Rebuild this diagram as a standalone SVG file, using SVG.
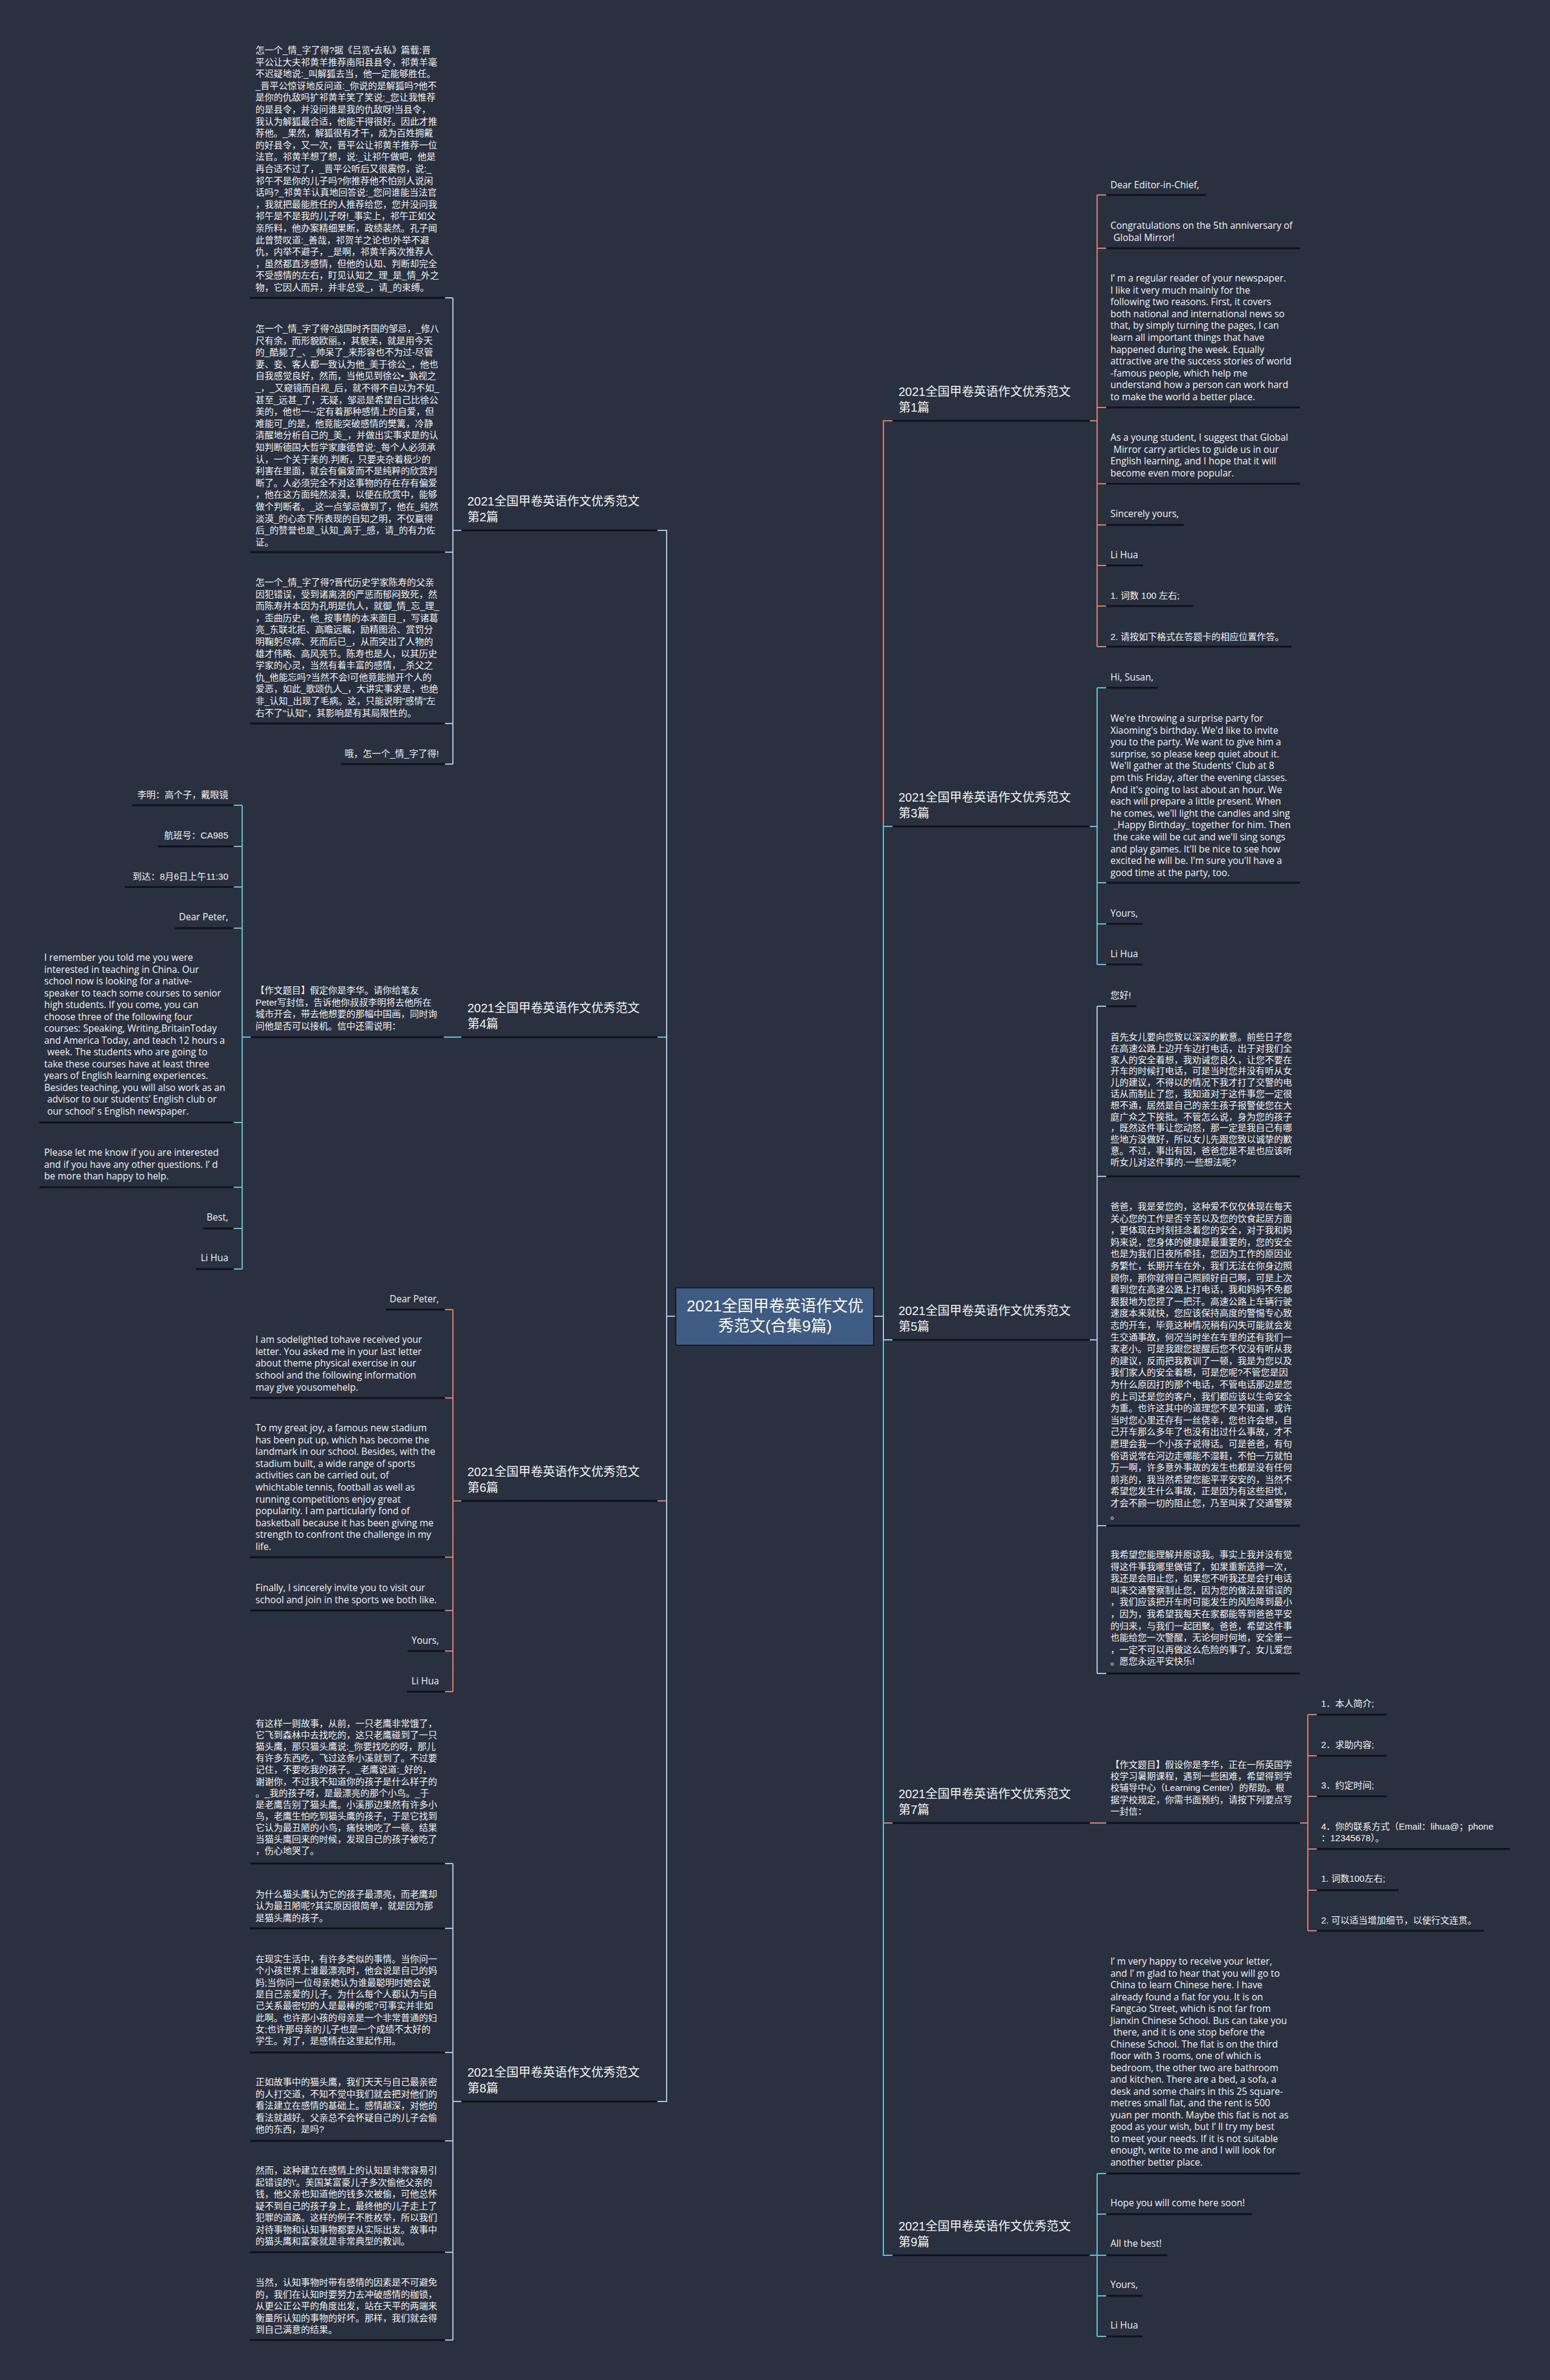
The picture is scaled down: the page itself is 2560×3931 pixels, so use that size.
<svg xmlns="http://www.w3.org/2000/svg" width="2560" height="3931" viewBox="0 0 2560 3931">
<style>
.t{font-family:"Liberation Sans","Noto Sans CJK SC",sans-serif;font-size:15px;fill:#f4f4f4}
.en{font-family:"Open Sans","Liberation Sans",sans-serif;font-size:15.5px}
.e{text-anchor:end}
.b{font-family:"Liberation Sans","Noto Sans CJK SC",sans-serif;font-size:20px;fill:#f4f4f4}
.c{font-family:"Liberation Sans","Noto Sans CJK SC",sans-serif;font-size:26px;fill:#ffffff;text-anchor:middle}
.ul{stroke:#0e1117;stroke-width:3;fill:none}
.S{stroke:#e07f6b;stroke-width:2;fill:none}
.C{stroke:#62c3d8;stroke-width:2;fill:none}
.B{stroke:#a8c6e2;stroke-width:2;fill:none}
</style>
<rect x="0" y="0" width="2560" height="3931" fill="#293140"/>

<g id="connectors">
<path class="S" d="M1443,2174H1459V695H1474"/>
<path class="S" d="M1443,2174H1459V3011H1474"/>
<path class="S" d="M1116,2174H1101V2479H1086"/>
<path class="C" d="M1443,2174H1459V1365H1474"/>
<path class="C" d="M1443,2174H1459V3725H1474"/>
<path class="C" d="M1116,2174H1101V1713H1086"/>
<path class="B" d="M1443,2174H1459V2213H1474"/>
<path class="B" d="M1116,2174H1101V876H1086"/>
<path class="B" d="M1116,2174H1101V3471H1086"/>
<path class="B" d="M762,876H748M748,492V1262M748,492H735M748,912H735M748,1195H735M748,1262H735"/>
<path class="C" d="M762,1713H733"/>
<path class="C" d="M414,1713H400M400,1330V2096M400,1330H386M400,1398H386M400,1465H386M400,1533H386M400,1854H386M400,1961H386M400,2029H386M400,2096H386"/>
<path class="S" d="M762,2479H748M748,2163V2794M748,2163H735M748,2309H735M748,2572H735M748,2660H735M748,2727H735M748,2794H735"/>
<path class="B" d="M762,3471H748M748,3078V3865M748,3078H735M748,3185H735M748,3390H735M748,3536H735M748,3720H735M748,3865H735"/>
<path class="S" d="M1800,695H1812M1812,322V1068M1812,322H1827M1812,410H1827M1812,673H1827M1812,799H1827M1812,867H1827M1812,934H1827M1812,1001H1827M1812,1068H1827"/>
<path class="C" d="M1800,1365H1812M1812,1136V1593M1812,1136H1827M1812,1458H1827M1812,1526H1827M1812,1593H1827"/>
<path class="B" d="M1800,2213H1812M1812,1662V2764M1812,1662H1827M1812,1943H1827M1812,2520H1827M1812,2764H1827"/>
<path class="S" d="M1800,3011H1827"/>
<path class="S" d="M2147,3011H2160M2160,2832V3189M2160,2832H2175M2160,2900H2175M2160,2967H2175M2160,3054H2175M2160,3122H2175M2160,3189H2175"/>
<path class="C" d="M1800,3725H1812M1812,3590V3859M1812,3590H1827M1812,3657H1827M1812,3725H1827M1812,3792H1827M1812,3859H1827"/>
</g>

<g id="root">
<rect x="1116" y="2127" width="327" height="95" fill="#3d5b83" stroke="#161a22" stroke-width="2"/>
<text class="c" x="1280" y="2166">2021全国甲卷英语作文优</text>
<text class="c" x="1280" y="2199">秀范文(合集9篇)</text>
</g>

<g id="b2">
<line class="ul" x1="762" y1="876" x2="1086" y2="876"/>
<text class="b" x="772" y="835">2021全国甲卷英语作文优秀范文</text>
<text class="b" x="772" y="861">第2篇</text>
</g>
<g id="b2n1">
<line class="ul" x1="413" y1="492" x2="735" y2="492"/>
<text class="t" x="422" y="88"><tspan x="422">怎一个_情_字了得?据《吕览•去私》篇载:晋</tspan><tspan x="422" dy="19.6">平公让大夫祁黄羊推荐南阳县县令，祁黄羊毫</tspan><tspan x="422" dy="19.6">不迟疑地说:_叫解狐去当，他一定能够胜任。</tspan><tspan x="422" dy="19.6">_晋平公惊讶地反问道:_你说的是解狐吗?他不</tspan><tspan x="422" dy="19.6">是你的仇敌吗扩祁黄羊笑了笑说:_您让我惟荐</tspan><tspan x="422" dy="19.6">的是县令，并没问谁是我的仇敌呀!当县令，</tspan><tspan x="422" dy="19.6">我认为解狐最合适，他能干得很好。因此才推</tspan><tspan x="422" dy="19.6">荐他。_果然，解狐很有才干，成为百姓拥戴</tspan><tspan x="422" dy="19.6">的好县令，又一次，晋平公让祁黄羊推荐一位</tspan><tspan x="422" dy="19.6">法官。祁黄羊想了想，说:_让祁午做吧，他是</tspan><tspan x="422" dy="19.6">再合适不过了，_晋平公听后又很震惊，说:_</tspan><tspan x="422" dy="19.6">祁午不是你的儿子吗?你推荐他不怕别人说闲</tspan><tspan x="422" dy="19.6">话吗?_祁黄羊认真地回答说:_您问谁能当法官</tspan><tspan x="422" dy="19.6">，我就把最能胜任的人推荐给您，您并没问我</tspan><tspan x="422" dy="19.6">祁午是不是我的儿子呀!_事实上，祁午正如父</tspan><tspan x="422" dy="19.6">亲所料，他办案精细果断，政绩裴然。孔子闻</tspan><tspan x="422" dy="19.6">此曾赞叹道:_善哉，祁贺羊之论也!外举不避</tspan><tspan x="422" dy="19.6">仇，内举不避子，_是啊，祁黄羊两次推荐人</tspan><tspan x="422" dy="19.6">，虽然都直涉感情，但他的认知、判断却完全</tspan><tspan x="422" dy="19.6">不受感情的左右，盯见认知之_理_是_情_外之</tspan><tspan x="422" dy="19.6">物，它因人而异，并非总受_，请_的束缚。</tspan></text>
</g>
<g id="b2n2">
<line class="ul" x1="413" y1="912" x2="735" y2="912"/>
<text class="t" x="422" y="548"><tspan x="422">怎一个_情_字了得?战国时齐国的邹忌，_修八</tspan><tspan x="422" dy="19.6">尺有余，而形貌欧丽。，其貌美，就是用今天</tspan><tspan x="422" dy="19.6">的_酷毙了_、_帅呆了_来形容也不为过-尽管</tspan><tspan x="422" dy="19.6">妻、妾、客人都一致认为他_美于徐公_，他也</tspan><tspan x="422" dy="19.6">自我感觉良好，然而，当他见到徐公•_孰视之</tspan><tspan x="422" dy="19.6">_，_又窥镜而自视_后，就不得不自以为不如_</tspan><tspan x="422" dy="19.6">甚至_远甚_了，无疑，邹忌是希望自己比徐公</tspan><tspan x="422" dy="19.6">美的，他也一--定有着那种感情上的自爱，但</tspan><tspan x="422" dy="19.6">难能可_的是，他竟能突破感情的樊篱，冷静</tspan><tspan x="422" dy="19.6">清醒地分析自己的_美_，并做出实事求是的认</tspan><tspan x="422" dy="19.6">知判断德国大哲学家康德曾说:_每个人必须承</tspan><tspan x="422" dy="19.6">认，一个关于美的.判断，只要夹杂着极少的</tspan><tspan x="422" dy="19.6">利害在里面，就会有偏爱而不是纯粹的欣赏判</tspan><tspan x="422" dy="19.6">断了。人必须完全不对这事物的存在存有偏爱</tspan><tspan x="422" dy="19.6">，他在这方面纯然淡漠，以便在欣赏中，能够</tspan><tspan x="422" dy="19.6">做个判断者。_这一点邹忌做到了，他在_纯然</tspan><tspan x="422" dy="19.6">淡漠_的心态下所表现的自知之明，不仅赢得</tspan><tspan x="422" dy="19.6">后_的赞誉也是_认知_高于_感，请_的有力佐</tspan><tspan x="422" dy="19.6">证。</tspan></text>
</g>
<g id="b2n3">
<line class="ul" x1="413" y1="1195" x2="735" y2="1195"/>
<text class="t" x="422" y="967"><tspan x="422">怎一个_情_字了得?晋代历史学家陈寿的父亲</tspan><tspan x="422" dy="19.6">因犯错误，受到诸离浇的严惩而郁闷致死，然</tspan><tspan x="422" dy="19.6">而陈寿并本因为孔明是仇人，就御_情_忘_理_</tspan><tspan x="422" dy="19.6">，歪曲历史，他_按事情的本来面目_，写诸葛</tspan><tspan x="422" dy="19.6">亮_东联北拒、高瞻远瞩，励精图治、赏罚分</tspan><tspan x="422" dy="19.6">明鞠躬尽瘁、死而后已_，从而突出了人物的</tspan><tspan x="422" dy="19.6">雄才伟略、高风亮节。陈寿也是人，以其历史</tspan><tspan x="422" dy="19.6">学家的心灵，当然有着丰富的感情，_杀父之</tspan><tspan x="422" dy="19.6">仇_他能忘吗?当然不会!可他竟能抛开个人的</tspan><tspan x="422" dy="19.6">爱恶，如此_歌颂仇人_，大讲实事求是，也绝</tspan><tspan x="422" dy="19.6">非_认知_出现了毛病。这，只能说明"感情"左</tspan><tspan x="422" dy="19.6">右不了"认知"，其影响是有其局限性的。</tspan></text>
</g>
<g id="b2n4">
<line class="ul" x1="563" y1="1262" x2="735" y2="1262"/>
<text class="t e" x="725" y="1250">哦，怎一个_情_字了得!</text>
</g>

<g id="b4">
<line class="ul" x1="762" y1="1713" x2="1086" y2="1713"/>
<text class="b" x="772" y="1672">2021全国甲卷英语作文优秀范文</text>
<text class="b" x="772" y="1698">第4篇</text>
</g>
<g id="b4n1">
<line class="ul" x1="414" y1="1713" x2="733" y2="1713"/>
<text class="t" x="422" y="1641"><tspan x="422">【作文题目】假定你是李华。请你给笔友</tspan><tspan x="422" dy="19.6">Peter写封信，告诉他你叔叔李明将去他所在</tspan><tspan x="422" dy="19.6">城市开会，带去他想要的那幅中国画，同时询</tspan><tspan x="422" dy="19.6">问他是否可以接机。信中还需说明：</tspan></text>
</g>
<g id="b4n1a"><line class="ul" x1="218" y1="1330" x2="386" y2="1330"/><text class="t e" x="377" y="1318">李明：高个子，戴眼镜</text></g>
<g id="b4n1b"><line class="ul" x1="261" y1="1398" x2="386" y2="1398"/><text class="t e" x="377" y="1385">航班号：CA985</text></g>
<g id="b4n1c"><line class="ul" x1="206" y1="1465" x2="386" y2="1465"/><text class="t e" x="377" y="1453">到达：8月6日上午11:30</text></g>
<g id="b4n1d"><line class="ul" x1="289" y1="1533" x2="386" y2="1533"/><text class="t en e" x="377" y="1520">Dear Peter,</text></g>
<g id="b4n1e"><line class="ul" x1="65" y1="1854" x2="386" y2="1854"/>
<text class="t en" x="73" y="1587"><tspan x="73">I remember you told me you were</tspan><tspan x="73" dy="19.5">interested in teaching in China. Our</tspan><tspan x="73" dy="19.5">school now is looking for a native-</tspan><tspan x="73" dy="19.5">speaker to teach some courses to senior</tspan><tspan x="73" dy="19.5">high students. If you come, you can</tspan><tspan x="73" dy="19.5">choose three of the following four</tspan><tspan x="73" dy="19.5">courses: Speaking, Writing,BritainToday</tspan><tspan x="73" dy="19.5">and America Today, and teach 12 hours a</tspan><tspan x="78" dy="19.5">week. The students who are going to</tspan><tspan x="73" dy="19.5">take these courses have at least three</tspan><tspan x="73" dy="19.5">years of English learning experiences.</tspan><tspan x="73" dy="19.5">Besides teaching, you will also work as an</tspan><tspan x="78" dy="19.5">advisor to our students’  English club or</tspan><tspan x="78" dy="19.5">our school’ s English newspaper.</tspan></text>
</g>
<g id="b4n1f"><line class="ul" x1="65" y1="1961" x2="386" y2="1961"/>
<text class="t en" x="73" y="1909"><tspan x="73">Please let me know if you are interested</tspan><tspan x="73" dy="19.5">and if you have any other questions. I’ d</tspan><tspan x="73" dy="19.5">be more than happy to help.</tspan></text>
</g>
<g id="b4n1g"><line class="ul" x1="335" y1="2029" x2="386" y2="2029"/><text class="t en e" x="377" y="2016">Best,</text></g>
<g id="b4n1h"><line class="ul" x1="324" y1="2096" x2="386" y2="2096"/><text class="t en e" x="377" y="2083">Li Hua</text></g>

<g id="b6">
<line class="ul" x1="762" y1="2479" x2="1086" y2="2479"/>
<text class="b" x="772" y="2438">2021全国甲卷英语作文优秀范文</text>
<text class="b" x="772" y="2464">第6篇</text>
</g>
<g id="b6n1"><line class="ul" x1="637" y1="2163" x2="735" y2="2163"/><text class="t en e" x="725" y="2151">Dear Peter,</text></g>
<g id="b6n2"><line class="ul" x1="413" y1="2309" x2="735" y2="2309"/>
<text class="t en" x="422" y="2218"><tspan x="422">I am sodelighted tohave received your</tspan><tspan x="422" dy="19.7">letter. You asked me in your last letter</tspan><tspan x="422" dy="19.7">about theme physical exercise in our</tspan><tspan x="422" dy="19.7">school and the following information</tspan><tspan x="422" dy="19.7">may give yousomehelp.</tspan></text>
</g>
<g id="b6n3"><line class="ul" x1="413" y1="2572" x2="735" y2="2572"/>
<text class="t en" x="422" y="2364"><tspan x="422">To my great joy, a famous new stadium</tspan><tspan x="422" dy="19.6">has been put up, which has become the</tspan><tspan x="422" dy="19.6">landmark in our school. Besides, with the</tspan><tspan x="422" dy="19.6">stadium built, a wide range of sports</tspan><tspan x="422" dy="19.6">activities can be carried out, of</tspan><tspan x="422" dy="19.6">whichtable tennis, football as well as</tspan><tspan x="422" dy="19.6">running competitions enjoy great</tspan><tspan x="422" dy="19.6">popularity. I am particularly fond of</tspan><tspan x="422" dy="19.6">basketball because it has been giving me</tspan><tspan x="422" dy="19.6">strength to confront the challenge in my</tspan><tspan x="422" dy="19.6">life.</tspan></text>
</g>
<g id="b6n4"><line class="ul" x1="413" y1="2660" x2="735" y2="2660"/>
<text class="t en" x="422" y="2628"><tspan x="422">Finally, I sincerely invite you to visit our</tspan><tspan x="422" dy="19.6">school and join in the sports we both like.</tspan></text>
</g>
<g id="b6n5"><line class="ul" x1="673" y1="2727" x2="735" y2="2727"/><text class="t en e" x="725" y="2715">Yours,</text></g>
<g id="b6n6"><line class="ul" x1="672" y1="2794" x2="735" y2="2794"/><text class="t en e" x="725" y="2782">Li Hua</text></g>

<g id="b8">
<line class="ul" x1="762" y1="3471" x2="1086" y2="3471"/>
<text class="b" x="772" y="3430">2021全国甲卷英语作文优秀范文</text>
<text class="b" x="772" y="3456">第8篇</text>
</g>
<g id="b8n1"><line class="ul" x1="413" y1="3078" x2="735" y2="3078"/>
<text class="t" x="422" y="2852"><tspan x="422">有这样一则故事，从前，一只老鹰非常饿了，</tspan><tspan x="422" dy="19.1">它飞到森林中去找吃的，这只老鹰碰到了一只</tspan><tspan x="422" dy="19.1">猫头鹰，那只猫头鹰说:_你要找吃的呀，那儿</tspan><tspan x="422" dy="19.1">有许多东西吃，飞过这条小溪就到了。不过要</tspan><tspan x="422" dy="19.1">记住，不要吃我的孩子。_老鹰说道:_好的，</tspan><tspan x="422" dy="19.1">谢谢你，不过我不知道你的孩子是什么样子的</tspan><tspan x="422" dy="19.1">。_我的孩子呀，是最漂亮的那个小鸟。_于</tspan><tspan x="422" dy="19.1">是老鹰告别了猫头鹰。小溪那边果然有许多小</tspan><tspan x="422" dy="19.1">鸟，老鹰生怕吃到猫头鹰的孩子，于是它找到</tspan><tspan x="422" dy="19.1">它认为最丑陋的小鸟，痛快地吃了一顿。结果</tspan><tspan x="422" dy="19.1">当猫头鹰回来的时候，发现自己的孩子被吃了</tspan><tspan x="422" dy="19.1">，伤心地哭了。</tspan></text>
</g>
<g id="b8n2"><line class="ul" x1="413" y1="3185" x2="735" y2="3185"/>
<text class="t" x="422" y="3134"><tspan x="422">为什么猫头鹰认为它的孩子最漂亮，而老鹰却</tspan><tspan x="422" dy="19.3">认为最丑陋呢?其实原因很简单，就是因为那</tspan><tspan x="422" dy="19.3">是猫头鹰的孩子。</tspan></text>
</g>
<g id="b8n3"><line class="ul" x1="413" y1="3390" x2="735" y2="3390"/>
<text class="t" x="422" y="3241"><tspan x="422">在现实生活中，有许多类似的事情。当你问一</tspan><tspan x="422" dy="19.3">个小孩世界上谁最漂亮时，他会说是自己的妈</tspan><tspan x="422" dy="19.3">妈;当你问一位母亲她认为谁最聪明时她会说</tspan><tspan x="422" dy="19.3">是自己亲爱的儿子。为什么每个人都认为与自</tspan><tspan x="422" dy="19.3">己关系最密切的人是最棒的呢?可事实并非如</tspan><tspan x="422" dy="19.3">此啊。也许那小孩的母亲是一个非常普通的妇</tspan><tspan x="422" dy="19.3">女;也许那母亲的儿子也是一个成绩不太好的</tspan><tspan x="422" dy="19.3">学生。对了，是感情在这里起作用。</tspan></text>
</g>
<g id="b8n4"><line class="ul" x1="413" y1="3536" x2="735" y2="3536"/>
<text class="t" x="422" y="3444"><tspan x="422">正如故事中的猫头鹰，我们天天与自己最亲密</tspan><tspan x="422" dy="19.5">的人打交道，不知不觉中我们就会把对他们的</tspan><tspan x="422" dy="19.5">看法建立在感情的基础上。感情越深，对他的</tspan><tspan x="422" dy="19.5">看法就越好。父亲总不会怀疑自己的儿子会偷</tspan><tspan x="422" dy="19.5">他的东西，是吗?</tspan></text>
</g>
<g id="b8n5"><line class="ul" x1="413" y1="3720" x2="735" y2="3720"/>
<text class="t" x="422" y="3590"><tspan x="422">然而，这种建立在感情上的认知是非常容易引</tspan><tspan x="422" dy="19.5">起错误的\'。美国某富豪儿子多次偷他父亲的</tspan><tspan x="422" dy="19.5">钱，他父亲也知道他的钱多次被偷，可他总怀</tspan><tspan x="422" dy="19.5">疑不到自己的孩子身上，最终他的儿子走上了</tspan><tspan x="422" dy="19.5">犯罪的道路。这样的例子不胜枚举，所以我们</tspan><tspan x="422" dy="19.5">对待事物和认知事物都要从实际出发。故事中</tspan><tspan x="422" dy="19.5">的猫头鹰和富豪就是非常典型的教训。</tspan></text>
</g>
<g id="b8n6"><line class="ul" x1="413" y1="3865" x2="735" y2="3865"/>
<text class="t" x="422" y="3775"><tspan x="422">当然，认知事物时带有感情的因素是不可避免</tspan><tspan x="422" dy="19.5">的，我们在认知时要努力去冲破感情的枷锁，</tspan><tspan x="422" dy="19.5">从更公正公平的角度出发，站在天平的两端来</tspan><tspan x="422" dy="19.5">衡量所认知的事物的好坏。那样，我们就会得</tspan><tspan x="422" dy="19.5">到自己满意的结果。</tspan></text>
</g>

<g id="b1">
<line class="ul" x1="1474" y1="695" x2="1800" y2="695"/>
<text class="b" x="1484" y="654">2021全国甲卷英语作文优秀范文</text>
<text class="b" x="1484" y="680">第1篇</text>
</g>
<g id="b1n1"><line class="ul" x1="1827" y1="322" x2="1992" y2="322"/><text class="t en" x="1834" y="311">Dear Editor-in-Chief,</text></g>
<g id="b1n2"><line class="ul" x1="1827" y1="410" x2="2147" y2="410"/>
<text class="t en" x="1834" y="378"><tspan x="1834">Congratulations on the 5th anniversary of</tspan><tspan x="1839" dy="19.6">Global Mirror!</tspan></text></g>
<g id="b1n3"><line class="ul" x1="1827" y1="673" x2="2147" y2="673"/>
<text class="t en" x="1834" y="465"><tspan x="1834">I’ m a regular reader of your newspaper.</tspan><tspan x="1834" dy="19.6">I like it very much mainly for the</tspan><tspan x="1834" dy="19.6">following two reasons. First, it covers</tspan><tspan x="1834" dy="19.6">both national and international news so</tspan><tspan x="1834" dy="19.6">that, by simply turning the pages, I can</tspan><tspan x="1834" dy="19.6">learn all important things that have</tspan><tspan x="1834" dy="19.6">happened during the week. Equally</tspan><tspan x="1834" dy="19.6">attractive are the success stories of world</tspan><tspan x="1834" dy="19.6">-famous people, which help me</tspan><tspan x="1834" dy="19.6">understand how a person can work hard</tspan><tspan x="1834" dy="19.6">to make the world a better place.</tspan></text></g>
<g id="b1n4"><line class="ul" x1="1827" y1="799" x2="2147" y2="799"/>
<text class="t en" x="1834" y="728"><tspan x="1834">As a young student, I suggest that Global</tspan><tspan x="1839" dy="19.6">Mirror carry articles to guide us in our</tspan><tspan x="1834" dy="19.6">English learning, and I hope that it will</tspan><tspan x="1834" dy="19.6">become even more popular.</tspan></text></g>
<g id="b1n5"><line class="ul" x1="1827" y1="867" x2="1955" y2="867"/><text class="t en" x="1834" y="854">Sincerely yours,</text></g>
<g id="b1n6"><line class="ul" x1="1827" y1="934" x2="1888" y2="934"/><text class="t en" x="1834" y="922">Li Hua</text></g>
<g id="b1n7"><line class="ul" x1="1827" y1="1001" x2="1971" y2="1001"/><text class="t" x="1834" y="989">1. 词数 100 左右;</text></g>
<g id="b1n8"><line class="ul" x1="1827" y1="1068" x2="2133" y2="1068"/><text class="t" x="1834" y="1057">2. 请按如下格式在答题卡的相应位置作答。</text></g>

<g id="b3">
<line class="ul" x1="1474" y1="1365" x2="1800" y2="1365"/>
<text class="b" x="1484" y="1324">2021全国甲卷英语作文优秀范文</text>
<text class="b" x="1484" y="1350">第3篇</text>
</g>
<g id="b3n1"><line class="ul" x1="1827" y1="1136" x2="1912" y2="1136"/><text class="t en" x="1834" y="1124">Hi, Susan,</text></g>
<g id="b3n2"><line class="ul" x1="1827" y1="1458" x2="2147" y2="1458"/>
<text class="t en" x="1834" y="1192"><tspan x="1834">We're throwing a surprise party for</tspan><tspan x="1834" dy="19.6">Xiaoming's birthday. We'd like to invite</tspan><tspan x="1834" dy="19.6">you to the party. We want to give him a</tspan><tspan x="1834" dy="19.6">surprise, so please keep quiet about it.</tspan><tspan x="1834" dy="19.6">We'll gather at the Students' Club at 8</tspan><tspan x="1834" dy="19.6">pm this Friday, after the evening classes.</tspan><tspan x="1834" dy="19.6">And it's going to last about an hour. We</tspan><tspan x="1834" dy="19.6">each will prepare a little present. When</tspan><tspan x="1834" dy="19.6">he comes, we'll light the candles and sing</tspan><tspan x="1839" dy="19.6">_Happy Birthday_ together for him. Then</tspan><tspan x="1839" dy="19.6">the cake will be cut and we'll sing songs</tspan><tspan x="1834" dy="19.6">and play games. It'll be nice to see how</tspan><tspan x="1834" dy="19.6">excited he will be. I'm sure you'll have a</tspan><tspan x="1834" dy="19.6">good time at the party, too.</tspan></text></g>
<g id="b3n3"><line class="ul" x1="1827" y1="1526" x2="1887" y2="1526"/><text class="t en" x="1834" y="1514">Yours,</text></g>
<g id="b3n4"><line class="ul" x1="1827" y1="1593" x2="1887" y2="1593"/><text class="t en" x="1834" y="1581">Li Hua</text></g>

<g id="b5">
<line class="ul" x1="1474" y1="2213" x2="1800" y2="2213"/>
<text class="b" x="1484" y="2172">2021全国甲卷英语作文优秀范文</text>
<text class="b" x="1484" y="2198">第5篇</text>
</g>
<g id="b5n1"><line class="ul" x1="1827" y1="1662" x2="1877" y2="1662"/><text class="t" x="1834" y="1649">您好!</text></g>
<g id="b5n2"><line class="ul" x1="1827" y1="1943" x2="2147" y2="1943"/>
<text class="t" x="1834" y="1718"><tspan x="1834">首先女儿要向您致以深深的歉意。前些日子您</tspan><tspan x="1834" dy="18.8">在高速公路上边开车边打电话，出于对我们全</tspan><tspan x="1834" dy="18.8">家人的安全着想，我劝诫您良久，让您不要在</tspan><tspan x="1834" dy="18.8">开车的时候打电话，可是当时您并没有听从女</tspan><tspan x="1834" dy="18.8">儿的建议，不得以的情况下我才打了交警的电</tspan><tspan x="1834" dy="18.8">话从而制止了您，我知道对于这件事您一定很</tspan><tspan x="1834" dy="18.8">想不通，居然是自己的亲生孩子报警使您在大</tspan><tspan x="1834" dy="18.8">庭广众之下挨批。不管怎么说，身为您的孩子</tspan><tspan x="1834" dy="18.8">，既然这件事让您动怒，那一定是我自己有哪</tspan><tspan x="1834" dy="18.8">些地方没做好，所以女儿先跟您致以诚挚的歉</tspan><tspan x="1834" dy="18.8">意。不过，事出有因，爸爸您是不是也应该听</tspan><tspan x="1834" dy="18.8">听女儿对这件事的.一些想法呢?</tspan></text></g>
<g id="b5n3"><line class="ul" x1="1827" y1="2520" x2="2147" y2="2520"/>
<text class="t" x="1834" y="1998"><tspan x="1834">爸爸，我是爱您的，这种爱不仅仅体现在每天</tspan><tspan x="1834" dy="19.6">关心您的工作是否辛苦以及您的饮食起居方面</tspan><tspan x="1834" dy="19.6">，更体现在时刻挂念着您的安全，对于我和妈</tspan><tspan x="1834" dy="19.6">妈来说，您身体的健康是最重要的，您的安全</tspan><tspan x="1834" dy="19.6">也是为我们日夜所牵挂，您因为工作的原因业</tspan><tspan x="1834" dy="19.6">务繁忙，长期开车在外，我们无法在你身边照</tspan><tspan x="1834" dy="19.6">顾你，那你就得自己照顾好自己啊，可是上次</tspan><tspan x="1834" dy="19.6">看到您在高速公路上打电话，我和妈妈不免都</tspan><tspan x="1834" dy="19.6">狠狠地为您捏了一把汗。高速公路上车辆行驶</tspan><tspan x="1834" dy="19.6">速度本来就快，您应该保持高度的警惕专心致</tspan><tspan x="1834" dy="19.6">志的开车，毕竟这种情况稍有闪失可能就会发</tspan><tspan x="1834" dy="19.6">生交通事故，何况当时坐在车里的还有我们一</tspan><tspan x="1834" dy="19.6">家老小。可是我跟您提醒后您不仅没有听从我</tspan><tspan x="1834" dy="19.6">的建议，反而把我教训了一顿，我是为您以及</tspan><tspan x="1834" dy="19.6">我们家人的安全着想，可是您呢?不管您是因</tspan><tspan x="1834" dy="19.6">为什么原因打的那个电话，不管电话那边是您</tspan><tspan x="1834" dy="19.6">的上司还是您的客户，我们都应该以生命安全</tspan><tspan x="1834" dy="19.6">为重。也许这其中的道理您不是不知道，或许</tspan><tspan x="1834" dy="19.6">当时您心里还存有一丝侥幸，您也许会想，自</tspan><tspan x="1834" dy="19.6">己开车那么多年了也没有出过什么事故，才不</tspan><tspan x="1834" dy="19.6">愿理会我一个小孩子说得话。可是爸爸，有句</tspan><tspan x="1834" dy="19.6">俗语说常在河边走哪能不湿鞋，不怕一万就怕</tspan><tspan x="1834" dy="19.6">万一啊，许多意外事故的发生也都是没有任何</tspan><tspan x="1834" dy="19.6">前兆的，我当然希望您能平平安安的，当然不</tspan><tspan x="1834" dy="19.6">希望您发生什么事故，正是因为有这些担忧，</tspan><tspan x="1834" dy="19.6">才会不顾一切的阻止您，乃至叫来了交通警察</tspan><tspan x="1834" dy="19.6">。</tspan></text></g>
<g id="b5n4"><line class="ul" x1="1827" y1="2764" x2="2147" y2="2764"/>
<text class="t" x="1834" y="2573"><tspan x="1834">我希望您能理解并原谅我。事实上我并没有觉</tspan><tspan x="1834" dy="19.6">得这件事我哪里做错了，如果重新选择一次，</tspan><tspan x="1834" dy="19.6">我还是会阻止您，如果您不听我还是会打电话</tspan><tspan x="1834" dy="19.6">叫来交通警察制止您，因为您的做法是错误的</tspan><tspan x="1834" dy="19.6">，我们应该把开车时可能发生的风险降到最小</tspan><tspan x="1834" dy="19.6">，因为，我希望我每天在家都能等到爸爸平安</tspan><tspan x="1834" dy="19.6">的归来，与我们一起团聚。爸爸，希望这件事</tspan><tspan x="1834" dy="19.6">也能给您一次警醒，无论何时何地，安全第一</tspan><tspan x="1834" dy="19.6">，一定不可以再做这么危险的事了。女儿爱您</tspan><tspan x="1834" dy="19.6">。愿您永远平安快乐!</tspan></text></g>

<g id="b7">
<line class="ul" x1="1474" y1="3011" x2="1800" y2="3011"/>
<text class="b" x="1484" y="2970">2021全国甲卷英语作文优秀范文</text>
<text class="b" x="1484" y="2996">第7篇</text>
</g>
<g id="b7n1"><line class="ul" x1="1827" y1="3011" x2="2147" y2="3011"/>
<text class="t" x="1834" y="2920"><tspan x="1834">【作文题目】假设你是李华，正在一所英国学</tspan><tspan x="1834" dy="19.2">校学习暑期课程，遇到一些困难，希望得到学</tspan><tspan x="1834" dy="19.2">校辅导中心（Learning Center）的帮助。根</tspan><tspan x="1834" dy="19.2">据学校规定，你需书面预约，请按下列要点写</tspan><tspan x="1834" dy="19.2">一封信：</tspan></text></g>
<g id="b7n1a"><line class="ul" x1="2175" y1="2832" x2="2290" y2="2832"/><text class="t" x="2182" y="2819">1．本人简介;</text></g>
<g id="b7n1b"><line class="ul" x1="2175" y1="2900" x2="2290" y2="2900"/><text class="t" x="2182" y="2887">2．求助内容;</text></g>
<g id="b7n1c"><line class="ul" x1="2175" y1="2967" x2="2290" y2="2967"/><text class="t" x="2182" y="2954">3．约定时间;</text></g>
<g id="b7n1d"><line class="ul" x1="2175" y1="3054" x2="2494" y2="3054"/>
<text class="t" x="2182" y="3022"><tspan x="2182">4．你的联系方式（Email：lihua@；phone</tspan><tspan x="2182" dy="19.4">：12345678）。</tspan></text></g>
<g id="b7n1e"><line class="ul" x1="2175" y1="3122" x2="2310" y2="3122"/><text class="t" x="2182" y="3108">1. 词数100左右;</text></g>
<g id="b7n1f"><line class="ul" x1="2175" y1="3189" x2="2451" y2="3189"/><text class="t" x="2182" y="3177">2. 可以适当增加细节，以使行文连贯。</text></g>

<g id="b9">
<line class="ul" x1="1474" y1="3725" x2="1800" y2="3725"/>
<text class="b" x="1484" y="3684">2021全国甲卷英语作文优秀范文</text>
<text class="b" x="1484" y="3710">第9篇</text>
</g>
<g id="b9n1"><line class="ul" x1="1827" y1="3590" x2="2147" y2="3590"/>
<text class="t en" x="1834" y="3245"><tspan x="1834">I’ m very happy to receive your letter,</tspan><tspan x="1834" dy="19.5">and I’ m glad to hear that you will go to</tspan><tspan x="1834" dy="19.5">China to learn Chinese here. I have</tspan><tspan x="1834" dy="19.5">already found a fiat for you. It is on</tspan><tspan x="1834" dy="19.5">Fangcao Street, which is not far from</tspan><tspan x="1834" dy="19.5">Jianxin Chinese School. Bus  can take you</tspan><tspan x="1839" dy="19.5">there, and it is one stop before the</tspan><tspan x="1834" dy="19.5">Chinese School. The flat is on the third</tspan><tspan x="1834" dy="19.5">floor with 3 rooms, one of which is</tspan><tspan x="1834" dy="19.5">bedroom, the other two are bathroom</tspan><tspan x="1834" dy="19.5">and kitchen. There are a bed, a sofa, a</tspan><tspan x="1834" dy="19.5">desk and some chairs in this 25 square-</tspan><tspan x="1834" dy="19.5">metres small fiat, and the rent is 500</tspan><tspan x="1834" dy="19.5">yuan per month. Maybe this fiat is not as</tspan><tspan x="1834" dy="19.5">good as your wish, but I’ ll try my best</tspan><tspan x="1834" dy="19.5">to meet your needs. If it is not suitable</tspan><tspan x="1834" dy="19.5">enough, write to me and I will look for</tspan><tspan x="1834" dy="19.5">another better place.</tspan></text></g>
<g id="b9n2"><line class="ul" x1="1827" y1="3657" x2="2068" y2="3657"/><text class="t en" x="1834" y="3644">Hope you will come here soon!</text></g>
<g id="b9n3"><line class="ul" x1="1827" y1="3725" x2="1928" y2="3725"/><text class="t en" x="1834" y="3711">All the best!</text></g>
<g id="b9n4"><line class="ul" x1="1827" y1="3792" x2="1887" y2="3792"/><text class="t en" x="1834" y="3779">Yours,</text></g>
<g id="b9n5"><line class="ul" x1="1827" y1="3859" x2="1887" y2="3859"/><text class="t en" x="1834" y="3846">Li Hua</text></g>
</svg>
